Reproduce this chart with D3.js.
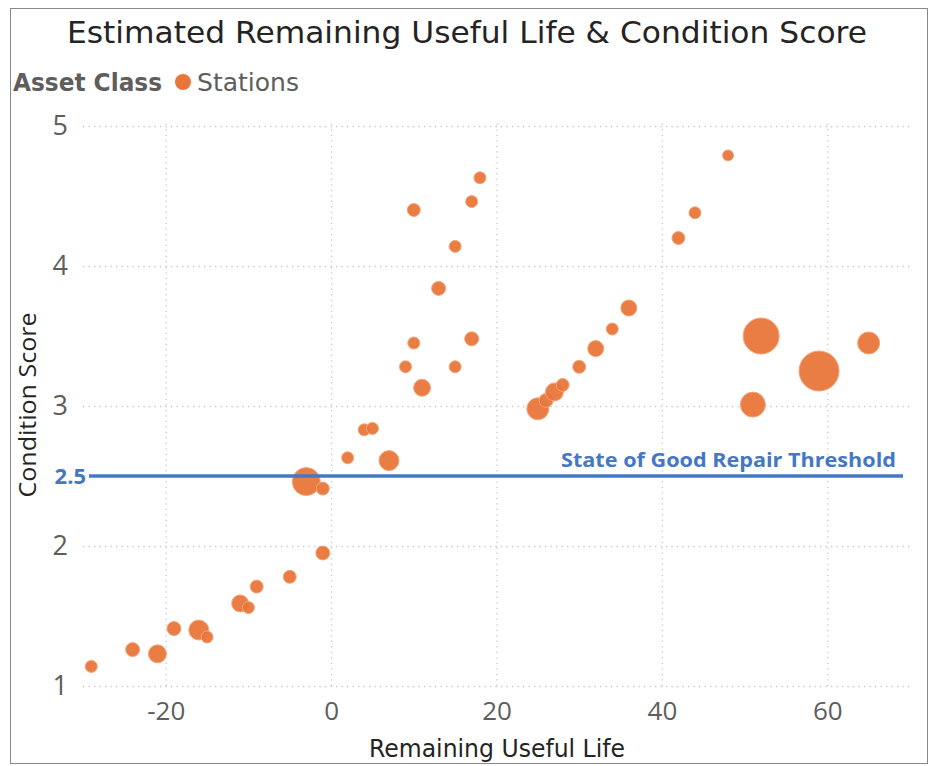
<!DOCTYPE html>
<html>
<head>
<meta charset="utf-8">
<script src="https://cdn.jsdelivr.net/npm/d3@7"></script>
<style>
  body { margin: 0; background: #fff; }
  svg { display: block; }
</style>
</head>
<body>
<div class="chart"></div>
<script>
const svgWidth = 929
const svgHeight = 766

// Stations: remaining useful life (years), condition score, bubble size
const usefulLife = [
  -29, -24, -21, -19, -16, -15, -11, -10, -9, -5, -1,
  -3, -1, 2, 4, 5, 7,
  10, 17, 18, 15, 13, 10, 17, 9, 15, 11,
  25, 26, 27, 28, 30, 32, 34, 36,
  42, 44, 48,
  51, 52, 59, 65
]
const conditionScore = [
  1.14, 1.26, 1.23, 1.41, 1.40, 1.35, 1.59, 1.56, 1.71, 1.78, 1.95,
  2.46, 2.41, 2.63, 2.83, 2.84, 2.61,
  4.40, 4.46, 4.63, 4.14, 3.84, 3.45, 3.48, 3.28, 3.28, 3.13,
  2.98, 3.04, 3.10, 3.15, 3.28, 3.41, 3.55, 3.70,
  4.20, 4.38, 4.79,
  3.01, 3.50, 3.25, 3.45
]
const bubbleSize = [
  36, 49, 81, 49, 100, 36, 72, 36, 42, 42, 49,
  196, 42, 36, 36, 36, 100,
  42, 36, 36, 36, 49, 36, 49, 36, 36, 72,
  121, 49, 81, 42, 42, 64, 36, 64,
  42, 36, 30,
  156, 324, 400, 121
]

const xTicks = [-20, 0, 20, 40, 60]
const yTicks = [1, 2, 3, 4, 5]
const threshold = 2.5

const data = usefulLife.map((d, i) => ({
  life: d,
  score: conditionScore[i],
  size: bubbleSize[i]
}))

let plot = { left: 83, right: 910, top: 126, bottom: 686 }

let svg = d3
  .select(".chart")
  .append("svg")
  .attr("width", svgWidth)
  .attr("height", svgHeight)

// frame
svg.append("rect")
  .attr("x", 10.5)
  .attr("y", 8.5)
  .attr("width", svgWidth - 12)
  .attr("height", svgHeight - 11)
  .attr("fill", "none")
  .attr("stroke", "#8a8886")
  .attr("stroke-width", 1)

let xScale = d3.scaleLinear().domain([-30, 70]).range([plot.left, plot.right])
let yScale = d3.scaleLinear().domain([1, 5]).range([plot.bottom, plot.top])
let rScale = d3.scaleSqrt().domain([0, 400]).range([0, 20])

// title
svg.append("text")
  .attr("x", 467)
  .attr("y", 43)
  .attr("text-anchor", "middle")
  .attr("font-family", "'DejaVu Sans', sans-serif")
  .attr("font-size", 31)
  .attr("fill", "#252423")
  .attr("textLength", 800)
  .attr("lengthAdjust", "spacingAndGlyphs")
  .text("Estimated Remaining Useful Life & Condition Score")

// legend
svg.append("text")
  .attr("x", 13)
  .attr("y", 91)
  .attr("font-family", "'DejaVu Sans', sans-serif")
  .attr("font-size", 25)
  .attr("font-weight", "bold")
  .attr("fill", "#605e5c")
  .attr("textLength", 149)
  .attr("lengthAdjust", "spacingAndGlyphs")
  .text("Asset Class")

svg.append("circle")
  .attr("cx", 183)
  .attr("cy", 82)
  .attr("r", 8)
  .attr("fill", "#e8763a")

svg.append("text")
  .attr("x", 197)
  .attr("y", 91)
  .attr("font-family", "'DejaVu Sans', sans-serif")
  .attr("font-size", 25)
  .attr("fill", "#605e5c")
  .attr("textLength", 102)
  .attr("lengthAdjust", "spacingAndGlyphs")
  .text("Stations")

// y axis with gridlines
let yAxis = svg.append("g")
  .attr("transform", `translate(${plot.left}, 0)`)
  .call(d3.axisLeft(yScale).tickValues(yTicks).tickSize(-(plot.right - plot.left)).tickPadding(15).tickFormat(d3.format("d")))

yAxis.select(".domain").remove()
yAxis.selectAll("line")
  .attr("stroke", "#c8c6c4")
  .attr("stroke-width", 1.3)
  .attr("stroke-dasharray", "1.3,4.2")
yAxis.selectAll("text")
  .attr("font-family", "'Open Sans', sans-serif")
  .attr("font-size", 27)
  .attr("fill", "#605e5c")

// x axis with gridlines
let xAxis = svg.append("g")
  .attr("transform", `translate(0, ${plot.bottom})`)
  .call(d3.axisBottom(xScale).tickValues(xTicks).tickSize(-(plot.bottom - plot.top + 6)).tickPadding(16)
    .tickFormat(d => String(d)))

xAxis.select(".domain").remove()
xAxis.selectAll("line")
  .attr("stroke", "#c8c6c4")
  .attr("stroke-width", 1.3)
  .attr("stroke-dasharray", "1.3,4.2")
xAxis.selectAll("text")
  .attr("font-family", "'Open Sans', sans-serif")
  .attr("font-size", 26)
  .attr("fill", "#605e5c")

// axis titles
svg.append("text")
  .attr("x", 497)
  .attr("y", 757)
  .attr("text-anchor", "middle")
  .attr("font-family", "'DejaVu Sans', sans-serif")
  .attr("font-size", 24)
  .attr("fill", "#252423")
  .attr("textLength", 256)
  .attr("lengthAdjust", "spacingAndGlyphs")
  .text("Remaining Useful Life")

svg.append("text")
  .attr("transform", `translate(36, 405) rotate(-90)`)
  .attr("text-anchor", "middle")
  .attr("font-family", "'Open Sans', sans-serif")
  .attr("font-size", 24)
  .attr("fill", "#252423")
  .attr("textLength", 185)
  .attr("lengthAdjust", "spacingAndGlyphs")
  .text("Condition Score")

// bubbles
svg.append("g")
  .selectAll("circle")
  .data(data)
  .enter()
  .append("circle")
  .attr("cx", d => xScale(d.life))
  .attr("cy", d => yScale(d.score))
  .attr("r", d => rScale(d.size))
  .attr("fill", "#e8763a")
  .attr("fill-opacity", 0.95)
  .attr("stroke", "#f2a67a")
  .attr("stroke-width", 1)

// threshold line
svg.append("line")
  .attr("x1", 89)
  .attr("x2", 903)
  .attr("y1", yScale(threshold))
  .attr("y2", yScale(threshold))
  .attr("stroke", "#4477c4")
  .attr("stroke-width", 3.5)

svg.append("text")
  .attr("x", 86)
  .attr("y", yScale(threshold))
  .attr("dy", "0.36em")
  .attr("text-anchor", "end")
  .attr("font-family", "'Open Sans', sans-serif")
  .attr("font-size", 22)
  .attr("font-weight", "bold")
  .attr("fill", "#4477c4")
  .text(threshold)

svg.append("text")
  .attr("x", 896)
  .attr("y", 467)
  .attr("text-anchor", "end")
  .attr("font-family", "'Open Sans', sans-serif")
  .attr("font-size", 20)
  .attr("font-weight", "bold")
  .attr("fill", "#4477c4")
  .attr("textLength", 335)
  .attr("lengthAdjust", "spacingAndGlyphs")
  .text("State of Good Repair Threshold")
</script>
</body>
</html>
